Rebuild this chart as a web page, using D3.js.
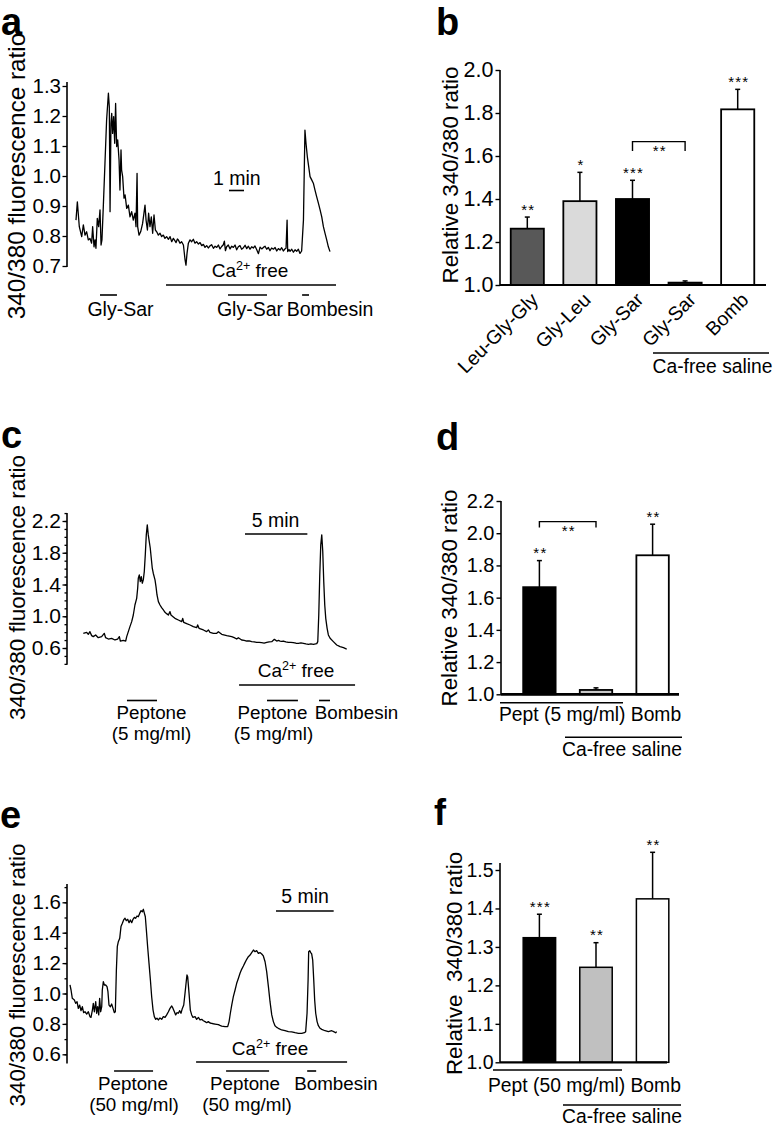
<!DOCTYPE html>
<html><head><meta charset="utf-8">
<script src="https://cdn.jsdelivr.net/npm/d3@7"></script>
<style>
body{margin:0;background:#fff;}
svg{display:block;}
svg text{font-family:"Liberation Sans", Arial, Helvetica, sans-serif; fill:#000;}
</style></head><body>
<svg id="fig" width="776" height="1130"></svg>
<script>
// ---------------- DATA ----------------
// Panel a trace: [time (min), 340/380 ratio]
const traceA = [[0,.853],[.09,.914],[.22,.831],[.38,.798],[.49,.837],[.60,.803],[.71,.814],[.82,.787],[.93,.792],[1.04,.776],[1.11,.831],[1.20,.764],[1.27,.787],[1.33,.759],[1.42,.859],[1.51,.831],[1.60,.887],[1.67,.770],[1.73,.787],[1.82,.898],[1.93,1.042],[2.04,1.187],[2.16,1.276],[2.22,1.231],[2.27,.881],[2.33,1.176],[2.38,1.209],[2.44,1.142],[2.51,1.198],[2.58,1.109],[2.64,1.242],[2.71,1.098],[2.78,1.120],[2.87,1.053],[2.93,.953],[3.00,1.087],[3.04,1.020],[3.11,.998],[3.20,.926],[3.27,.937],[3.38,.892],[3.49,.903],[3.60,.864],[3.71,.881],[3.82,.853],[3.93,.876],[4.00,.831],[4.07,1.009],[4.11,.831],[4.20,.803],[4.31,.814],[4.44,.842],[4.53,.876],[4.60,.903],[4.67,.853],[4.76,.820],[4.84,.876],[4.93,.831],[5.02,.864],[5.11,.809],[5.20,.870],[5.29,.820],[5.38,.814],[5.49,.803],[5.60,.809],[5.71,.798],[5.82,.803],[5.93,.792],[6.04,.798],[6.16,.789],[6.27,.798],[6.38,.781],[6.49,.792],[6.60,.784],[6.67,.778],[6.76,.790],[6.82,.787],[6.93,.776],[7.04,.781],[7.16,.770],[7.27,.720],[7.33,.703],[7.40,.742],[7.49,.776],[7.60,.787],[7.71,.781],[7.82,.789],[7.93,.776],[8.04,.781],[8.16,.773],[8.27,.778],[8.38,.768],[8.49,.772],[8.60,.762],[8.71,.768],[8.82,.760],[8.93,.767],[9.04,.771],[9.16,.759],[9.27,.766],[9.38,.762],[9.49,.770],[9.60,.757],[9.71,.765],[9.82,.771],[9.89,.783],[9.96,.751],[10.04,.764],[10.15,.770],[10.27,.757],[10.38,.766],[10.49,.762],[10.60,.770],[10.71,.754],[10.82,.764],[10.93,.768],[11.04,.756],[11.16,.761],[11.27,.769],[11.38,.758],[11.49,.766],[11.60,.756],[11.71,.764],[11.82,.760],[11.93,.767],[12.04,.755],[12.16,.741],[12.27,.763],[12.38,.757],[12.49,.762],[12.60,.766],[12.71,.756],[12.82,.762],[12.93,.751],[13.04,.760],[13.16,.756],[13.27,.762],[13.38,.750],[13.49,.758],[13.60,.753],[13.71,.761],[13.82,.750],[13.93,.757],[14.00,.759],[14.07,.853],[14.11,.748],[14.20,.755],[14.27,.749],[14.38,.756],[14.49,.746],[14.60,.754],[14.71,.749],[14.82,.756],[14.93,.742],[15.04,.750],[15.16,.853],[15.26,1.153],[15.33,1.109],[15.42,1.064],[15.51,1.031],[15.60,.998],[15.71,.987],[15.82,.976],[15.93,.953],[16.04,.931],[16.16,.909],[16.27,.887],[16.38,.864],[16.49,.831],[16.60,.809],[16.71,.787],[16.82,.764],[16.93,.748]];

// Panel c trace
const traceC = [[0,.785],[.27,.798],[.40,.772],[.53,.806],[.67,.756],[.80,.743],[.99,.764],[1.20,.730],[1.47,.743],[1.68,.785],[1.79,.730],[2.01,.713],[2.27,.722],[2.54,.701],[2.75,.713],[2.89,.743],[2.97,.688],[3.21,.697],[3.40,.688],[3.48,.743],[3.61,.806],[3.74,.869],[3.88,.932],[4.01,1.016],[4.14,1.142],[4.28,1.226],[4.36,1.352],[4.41,1.479],[4.49,1.521],[4.57,1.436],[4.65,1.500],[4.73,1.416],[4.81,1.458],[4.89,1.563],[4.97,1.773],[5.05,2.025],[5.13,2.151],[5.21,2.025],[5.29,1.941],[5.37,1.857],[5.45,1.731],[5.53,1.605],[5.61,1.542],[5.75,1.458],[5.83,1.373],[5.91,1.268],[6.02,1.184],[6.15,1.142],[6.28,1.109],[6.42,1.079],[6.55,1.050],[6.68,1.033],[6.82,1.016],[6.95,1.058],[7.03,1.016],[7.22,.991],[7.35,.974],[7.62,.953],[7.89,.932],[7.97,.974],[8.05,.924],[8.29,.907],[8.56,.890],[8.82,.869],[9.09,.856],[9.17,.890],[9.28,.848],[9.63,.827],[9.89,.806],[10.03,.827],[10.16,.798],[10.43,.785],[10.70,.785],[10.83,.806],[11.10,.772],[11.50,.756],[11.90,.743],[12.10,.730],[12.30,.713],[12.43,.730],[12.70,.701],[12.90,.697],[13.10,.688],[13.30,.690],[13.50,.680],[13.70,.676],[13.90,.671],[14.10,.672],[14.30,.667],[14.50,.662],[14.71,.671],[14.90,.676],[15.11,.680],[15.32,.709],[15.51,.688],[15.65,.695],[15.78,.688],[15.90,.684],[16.04,.688],[16.24,.678],[16.44,.671],[16.64,.670],[16.84,.667],[17.05,.660],[17.25,.659],[17.45,.664],[17.65,.659],[17.85,.652],[18.05,.646],[18.25,.652],[18.45,.646],[18.72,.655],[18.80,.680],[18.88,1.016],[18.96,1.521],[19.04,1.899],[19.12,2.025],[19.20,1.815],[19.28,1.436],[19.36,1.142],[19.44,.974],[19.55,.848],[19.65,.764],[19.79,.722],[20.05,.680],[20.32,.638],[20.59,.617],[20.86,.604],[21.12,.587]];

// Panel e trace
const traceE = [[0,1.056],[.09,1.023],[.20,.968],[.38,.957],[.49,.935],[.61,.946],[.72,.902],[.84,.924],[.95,.887],[1.07,.913],[1.18,.874],[1.30,.880],[1.45,.865],[1.59,.880],[1.73,.848],[1.82,.843],[1.94,.891],[2.02,.935],[2.11,.880],[2.23,.946],[2.31,.870],[2.40,.913],[2.49,.859],[2.57,.968],[2.66,.880],[2.75,.913],[2.80,1.023],[2.89,1.078],[2.98,1.056],[3.09,1.056],[3.21,1.045],[3.29,1.012],[3.38,.924],[3.50,.913],[3.61,.931],[3.73,.902],[3.84,.874],[3.93,.880],[4.02,1.155],[4.10,1.308],[4.19,1.341],[4.31,1.363],[4.42,1.440],[4.54,1.462],[4.65,1.484],[4.77,1.495],[4.88,1.479],[5.00,1.488],[5.12,1.466],[5.23,1.484],[5.35,1.466],[5.46,1.488],[5.58,1.501],[5.69,1.495],[5.81,1.510],[5.92,1.505],[6.04,1.527],[6.16,1.545],[6.27,1.538],[6.36,1.554],[6.45,1.527],[6.53,1.505],[6.62,1.418],[6.73,1.308],[6.85,1.198],[6.97,1.089],[7.08,.979],[7.20,.891],[7.31,.848],[7.43,.830],[7.54,.837],[7.66,.826],[7.80,.839],[7.95,.830],[8.09,.848],[8.24,.843],[8.38,.859],[8.53,.880],[8.67,.902],[8.82,.918],[8.93,.902],[9.05,.880],[9.16,.859],[9.28,.874],[9.39,.870],[9.51,.887],[9.62,.870],[9.74,.902],[9.86,.924],[9.97,1.001],[10.09,1.089],[10.14,1.122],[10.20,1.111],[10.32,1.001],[10.43,.891],[10.55,.859],[10.66,.843],[10.84,.848],[10.98,.830],[11.13,.843],[11.27,.826],[11.42,.830],[11.56,.821],[11.71,.815],[11.85,.808],[11.99,.815],[12.14,.806],[12.28,.804],[12.43,.801],[12.57,.799],[12.72,.797],[12.86,.795],[13.00,.790],[13.15,.786],[13.30,.784],[13.44,.782],[13.67,.782],[13.79,.815],[13.90,.870],[14.02,.924],[14.16,.979],[14.31,1.023],[14.45,1.067],[14.60,1.100],[14.74,1.133],[14.88,1.159],[15.03,1.181],[15.17,1.203],[15.32,1.225],[15.46,1.242],[15.61,1.253],[15.75,1.269],[15.90,1.286],[16.04,1.275],[16.18,1.282],[16.33,1.264],[16.47,1.269],[16.62,1.260],[16.76,1.247],[16.91,1.209],[17.05,1.144],[17.20,1.045],[17.34,.946],[17.49,.859],[17.63,.815],[17.77,.788],[17.92,.777],[18.06,.771],[18.35,.760],[18.64,.755],[18.93,.749],[19.22,.747],[19.51,.742],[19.80,.738],[20.09,.738],[20.32,.742],[20.43,.749],[20.55,.870],[20.64,1.089],[20.69,1.275],[20.78,1.282],[20.87,1.269],[20.95,1.260],[21.04,1.220],[21.13,1.089],[21.21,.957],[21.30,.870],[21.42,.815],[21.53,.788],[21.68,.771],[21.82,.764],[22.11,.755],[22.40,.749],[22.69,.755],[22.86,.749],[23.03,.742],[23.12,.749]];

// Stimulus periods (min) for the traces
const stimA = [[1.6,2.73],[10.13,12.73],[15.07,15.53]];
const caFreeA = [6.0,17.33];
const stimC = [[3.5,5.91],[14.73,17.21],[18.9,19.78]];
const caFreeC = [12.49,21.79];
const stimE = [[3.82,7.2],[13.53,17.26],[20.56,21.34]];
const caFreeE = [10.93,24.02];

// Panel b bars
const catsB = ["Leu-Gly-Gly","Gly-Leu","Gly-Sar","Gly-Sar","Bomb"];
const meanB = [1.262,1.390,1.400,1.011,1.817];
const errB  = [0.054,0.134,0.087,0.008,0.093];
const sigB  = ["**","*","***","","***"];
const fillB = ["#585858","#dadada","#000000","#1a1a1a","#ffffff"];
const ticksB = [1.0,1.2,1.4,1.6,1.8,2.0];

// Panel d bars
const meanD = [1.665,1.027,1.863];
const errD  = [0.165,0.013,0.193];
const sigD  = ["**","","**"];
const fillD = ["#000000","#c8c8c8","#ffffff"];
const ticksD = [1.0,1.2,1.4,1.6,1.8,2.0,2.2];

// Panel f bars
const meanF = [1.324,1.247,1.425];
const errF  = [0.061,0.064,0.121];
const sigF  = ["***","**","**"];
const fillF = ["#000000","#c0c0c0","#ffffff"];
const ticksF = [1.0,1.1,1.2,1.3,1.4,1.5];

// ---------------- DRAWING ----------------
const svg = d3.select('#fig');
const FONT = '"Liberation Sans", Arial, Helvetica, sans-serif';
const fmt = d3.format('.1f');

function text(t, x, y, size, anchor, extra){
  const e = svg.append('text').attr('x',x).attr('y',y).attr('font-size',size)
    .attr('text-anchor',anchor||'start').style('white-space','pre').text(t);
  if(extra) extra(e);
  return e;
}
function hline(x1,x2,y,w){
  svg.append('line').attr('x1',x1).attr('x2',x2).attr('y1',y).attr('y2',y)
    .attr('stroke','#000').attr('stroke-width',w||1.5);
}
function panelLabel(t,x,y,size){ text(t,x,y,size||38,'start',e=>e.attr('font-weight','bold')); }
function vTitle(t, cy, bx, size){
  svg.append('text').attr('transform',`translate(${bx},${cy}) rotate(-90)`)
    .attr('text-anchor','middle').attr('font-size',size).style('white-space','pre').text(t);
}
function caFreeText(cx, y, size){
  const t = svg.append('text').attr('x',cx).attr('y',y).attr('font-size',size).attr('text-anchor','middle');
  t.append('tspan').text('Ca');
  t.append('tspan').attr('dy',-7).attr('font-size',size*0.66).text('2+');
  t.append('tspan').attr('dy',7).text(' free');
}

function tracePanel(o){
  const x = d3.scaleLinear().domain(o.tDomain).range(o.xRange);
  const y = d3.scaleLinear().domain(o.vDomain).range(o.yRange);
  const ax = svg.append('g').attr('transform',`translate(${o.axisX},0)`);
  if(o.minor){
    ax.append('g').call(d3.axisLeft(y).tickValues(o.minor).tickSize(2.5).tickFormat(''))
      .call(s=>s.select('.domain').remove())
      .call(s=>s.selectAll('line').attr('stroke-width',1.3));
  }
  ax.append('g').call(d3.axisLeft(y).tickValues(o.major).tickSize(4.5).tickPadding(1.5).tickFormat(fmt))
    .attr('font-size',o.tickSize).attr('font-family',FONT)
    .call(s=>s.select('.domain').remove())
    .call(s=>s.selectAll('line').attr('stroke-width',1.3));
  ax.append('line').attr('y1',y(o.axisExt[0])).attr('y2',y(o.axisExt[1]))
    .attr('stroke','#000').attr('stroke-width',1.6);
  svg.append('path').datum(o.data)
    .attr('d', d3.line().x(d=>x(d[0])).y(d=>y(d[1])))
    .attr('fill','none').attr('stroke','#000').attr('stroke-width',1.3).attr('stroke-linejoin','round');
  // Ca-free line and stimulus bars
  hline(x(o.caFree[0]), x(o.caFree[1]), o.caY, 1.5);
  o.stim.forEach(s=>hline(x(s[0]), x(s[1]), o.stimY, 1.6));
  // scale bar
  hline(o.scaleX, o.scaleX + (x(o.scaleLen)-x(0)), o.scaleY, 1.6);
  return {x,y};
}

function barPanel(o){
  const x = d3.scaleBand().domain(d3.range(o.means.length)).range(o.xRange)
    .paddingInner(o.pi).paddingOuter(o.po);
  const y = d3.scaleLinear().domain(o.vDomain).range(o.yRange);
  const ax = svg.append('g').attr('transform',`translate(${o.axisX},0)`)
    .call(d3.axisLeft(y).tickValues(o.ticks).tickSize(4.5).tickPadding(2).tickFormat(fmt))
    .attr('font-size',o.tickSize).attr('font-family',FONT);
  ax.select('.domain').remove();
  ax.selectAll('line').attr('stroke-width',1.4);
  ax.append('line').attr('y1',y(o.vDomain[0])).attr('y2',y(o.axisTop))
    .attr('stroke','#000').attr('stroke-width',1.6);
  const g = svg.append('g');
  o.means.forEach((m,i)=>{
    const cx = x(i) + x.bandwidth()/2;
    const top = y(m + o.errs[i]);
    g.append('line').attr('x1',cx).attr('x2',cx).attr('y1',y(m)).attr('y2',top)
      .attr('stroke','#000').attr('stroke-width',1.5);
    g.append('line').attr('x1',cx-2.5).attr('x2',cx+2.5).attr('y1',top).attr('y2',top)
      .attr('stroke','#000').attr('stroke-width',1.5);
    g.append('rect').attr('x',x(i)).attr('y',y(m)).attr('width',x.bandwidth())
      .attr('height',y(o.vDomain[0])-y(m)).attr('fill',o.fills[i])
      .attr('stroke','#000').attr('stroke-width',o.barStroke);
    if(o.sig[i]){
      g.append('text').attr('x',cx + 1).attr('y',top - 11 + 8.5).attr('text-anchor','middle')
        .attr('font-size',15).attr('letter-spacing',1.2).text(o.sig[i]);
    }
  });
  hline(o.axisX, o.baseEnd, y(o.vDomain[0]), o.baseW);
  if(o.bracket){
    const b = o.bracket;
    const x1 = x(b.i) + x.bandwidth()/2, x2 = x(b.j) + x.bandwidth()/2;
    g.append('path').attr('d',`M${x1},${y(b.low)}V${y(b.high)}H${x2}V${y(b.low)}`)
      .attr('fill','none').attr('stroke','#000').attr('stroke-width',1.4);
    g.append('text').attr('x',(x1+x2)/2 + 1).attr('y',y(b.high) + 5.5 + 8.5).attr('text-anchor','middle')
      .attr('font-size',15).attr('letter-spacing',1.2).text('**');
  }
  return {x,y};
}

// ---- Panel a ----
panelLabel('a',1,35);
vTitle('340/380 fluorescence ratio',176,25,24.3);
tracePanel({data:traceA, tDomain:[0,16.93], xRange:[76,330], vDomain:[0.7,1.3], yRange:[266,86],
  axisX:67, axisExt:[0.697,1.313], major:d3.range(7,14).map(d=>d/10), minor:null, tickSize:20.5,
  caFree:caFreeA, caY:285, stim:stimA, stimY:295, scaleX:229, scaleLen:1, scaleY:190.5});
text('1 min',213,185,19.5);
caFreeText(250,277,19);
text('Gly-Sar',120.5,316,19.5,'middle');
text('Gly-Sar',250,316,19.5,'middle');
text('Bombesin',330,316,19.5,'middle');

// ---- Panel b ----
panelLabel('b',436,35);
vTitle('Relative 340/380 ratio',175,458,22.3);
const pb = barPanel({means:meanB, errs:errB, sig:sigB, fills:fillB, ticks:ticksB, tickSize:21.5,
  xRange:[501,764], pi:0.37, po:0.185, vDomain:[1.0,2.0], yRange:[285,70], axisTop:2.0, axisX:500,
  baseEnd:766, baseW:2, barStroke:1.8, bracket:{i:2,j:3,high:1.667,low:1.623}});
catsB.forEach((c,i)=>{
  const cx = pb.x(i) + pb.x.bandwidth()/2 + 12;
  svg.append('text').attr('transform',`translate(${cx},301) rotate(-45)`).attr('text-anchor','end')
    .attr('font-size',19.5).text(c);
});
hline(653,769,353,1.5);
text('Ca-free saline',712.5,373,19.3,'middle');

// ---- Panel c ----
panelLabel('c',1,448);
vTitle('340/380 fluorescence ratio',587.5,25,22.5);
tracePanel({data:traceC, tDomain:[0,21.12], xRange:[83.3,346.7], vDomain:[0.6,2.2], yRange:[648,521],
  axisX:67, axisExt:[0.39,2.3], major:[0.6,1.0,1.4,1.8,2.2], minor:d3.range(4,24).map(d=>d/10), tickSize:21,
  caFree:caFreeC, caY:685, stim:stimC, stimY:700.5, scaleX:245, scaleLen:5, scaleY:534});
text('5 min',275.5,527,19.5,'middle');
caFreeText(296,677,19);
text('Peptone',151.5,719,18.8,'middle');
text('(5 mg/ml)',151.5,740,18.8,'middle');
text('Peptone',272.5,719,18.8,'middle');
text('Bombesin',356.5,719,18.8,'middle');
text('(5 mg/ml)',273.5,740,18.8,'middle');

// ---- Panel d ----
panelLabel('d',436,450);
vTitle('Relative 340/380 ratio',598,457,22.3);
barPanel({means:meanD, errs:errD, sig:sigD, fills:fillD, ticks:ticksD, tickSize:20,
  xRange:[501,691], pi:0.427, po:0.392, vDomain:[1.0,2.2], yRange:[694.3,501], axisTop:2.2, axisX:501,
  baseEnd:679, baseW:2.8, barStroke:1.8, bracket:{i:0,j:1,high:2.072,low:2.035}});
hline(500,623,702.7,1.5);
text('Pept (5 mg/ml) Bomb',499,721,19.3);
hline(565,682,737.3,1.5);
text('Ca-free saline',562,756,19.3);

// ---- Panel e ----
panelLabel('e',0,828);
vTitle('340/380 fluorescence ratio',975,25,22.3);
tracePanel({data:traceE, tDomain:[0,23.12], xRange:[70,336.7], vDomain:[0.6,1.6], yRange:[1054.3,902.3],
  axisX:67, axisExt:[0.54,1.72], major:[0.6,0.8,1.0,1.2,1.4,1.6], minor:d3.range(6,18).map(d=>d/10), tickSize:20.5,
  caFree:caFreeE, caY:1062, stim:stimE, stimY:1071, scaleX:276, scaleLen:5, scaleY:911});
text('5 min',305,903,19.5,'middle');
caFreeText(270,1055,19);
text('Peptone',133,1090,18.8,'middle');
text('(50 mg/ml)',134,1111,18.8,'middle');
text('Peptone',245,1090,18.8,'middle');
text('(50 mg/ml)',247,1111,18.8,'middle');
text('Bombesin',336,1090,18.8,'middle');

// ---- Panel f ----
panelLabel('f',434,825,36);
vTitle('Relative  340/380 ratio',963.5,462,22.3);
barPanel({means:meanF, errs:errF, sig:sigF, fills:fillF, ticks:ticksF, tickSize:19.5,
  xRange:[501,691], pi:0.427, po:0.392, vDomain:[1.0,1.5], yRange:[1062.3,870], axisTop:1.518, axisX:500,
  baseEnd:667, baseW:2.2, barStroke:1.5, bracket:null});
hline(493,622,1070,1.5);
text('Pept (50 mg/ml) Bomb',488,1091.5,19.3);
hline(563,681,1105,1.5);
text('Ca-free saline',562,1123,19.3);
</script>
</body></html>
